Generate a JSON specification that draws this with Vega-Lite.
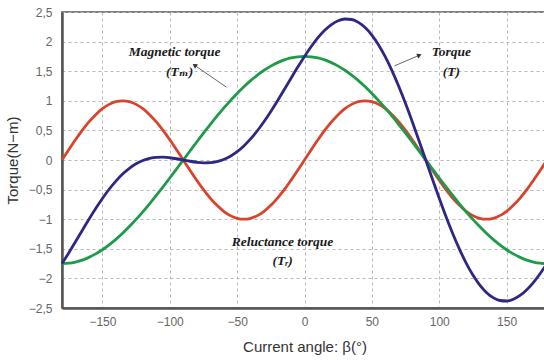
{
  "$schema": "https://vega.github.io/schema/vega-lite/v6.json",
  "width": 485,
  "height": 296,
  "autosize": "none",
  "padding": {"left": 62, "top": 12, "right": 0, "bottom": 52},
  "background": "white",
  "config": {
    "locale": {"number": {"decimal": ",", "thousands": ".", "grouping": [3], "currency": ["", ""], "minus": "−"}},
    "view": {"stroke": "#555", "strokeWidth": 1.5},
    "axis": {
      "grid": true,
      "gridDash": [3, 3],
      "gridColor": "#b8b8b8",
      "gridWidth": 1,
      "ticks": false,
      "domainColor": "#555",
      "domainWidth": 2.5,
      "labelFont": "Liberation Sans",
      "labelFontSize": 12,
      "labelColor": "#666",
      "labelOverlap": false,
      "titleFont": "Liberation Sans",
      "titleFontSize": 15,
      "titleFontWeight": "normal",
      "titleColor": "#333"
    }
  },
  "datasets": {
    "torque": [
      {"b": -180, "m": -1.75, "r": 0, "t": -1.75},
      {"b": -175, "m": -1.7433, "r": 0.1736, "t": -1.5697},
      {"b": -170, "m": -1.7234, "r": 0.342, "t": -1.3814},
      {"b": -165, "m": -1.6904, "r": 0.5, "t": -1.1904},
      {"b": -160, "m": -1.6445, "r": 0.6428, "t": -1.0017},
      {"b": -155, "m": -1.586, "r": 0.766, "t": -0.82},
      {"b": -150, "m": -1.5155, "r": 0.866, "t": -0.6495},
      {"b": -145, "m": -1.4335, "r": 0.9397, "t": -0.4938},
      {"b": -140, "m": -1.3406, "r": 0.9848, "t": -0.3558},
      {"b": -135, "m": -1.2374, "r": 1, "t": -0.2374},
      {"b": -130, "m": -1.1249, "r": 0.9848, "t": -0.1401},
      {"b": -125, "m": -1.0038, "r": 0.9397, "t": -0.0641},
      {"b": -120, "m": -0.875, "r": 0.866, "t": -0.009},
      {"b": -115, "m": -0.7396, "r": 0.766, "t": 0.0264},
      {"b": -110, "m": -0.5985, "r": 0.6428, "t": 0.0443},
      {"b": -105, "m": -0.4529, "r": 0.5, "t": 0.0471},
      {"b": -100, "m": -0.3039, "r": 0.342, "t": 0.0381},
      {"b": -95, "m": -0.1525, "r": 0.1736, "t": 0.0211},
      {"b": -90, "m": 0, "r": 0, "t": 0},
      {"b": -85, "m": 0.1525, "r": -0.1736, "t": -0.0211},
      {"b": -80, "m": 0.3039, "r": -0.342, "t": -0.0381},
      {"b": -75, "m": 0.4529, "r": -0.5, "t": -0.0471},
      {"b": -70, "m": 0.5985, "r": -0.6428, "t": -0.0443},
      {"b": -65, "m": 0.7396, "r": -0.766, "t": -0.0264},
      {"b": -60, "m": 0.875, "r": -0.866, "t": 0.009},
      {"b": -55, "m": 1.0038, "r": -0.9397, "t": 0.0641},
      {"b": -50, "m": 1.1249, "r": -0.9848, "t": 0.1401},
      {"b": -45, "m": 1.2374, "r": -1, "t": 0.2374},
      {"b": -40, "m": 1.3406, "r": -0.9848, "t": 0.3558},
      {"b": -35, "m": 1.4335, "r": -0.9397, "t": 0.4938},
      {"b": -30, "m": 1.5155, "r": -0.866, "t": 0.6495},
      {"b": -25, "m": 1.586, "r": -0.766, "t": 0.82},
      {"b": -20, "m": 1.6445, "r": -0.6428, "t": 1.0017},
      {"b": -15, "m": 1.6904, "r": -0.5, "t": 1.1904},
      {"b": -10, "m": 1.7234, "r": -0.342, "t": 1.3814},
      {"b": -5, "m": 1.7433, "r": -0.1736, "t": 1.5697},
      {"b": 0, "m": 1.75, "r": 0, "t": 1.75},
      {"b": 5, "m": 1.7433, "r": 0.1736, "t": 1.9169},
      {"b": 10, "m": 1.7234, "r": 0.342, "t": 2.0654},
      {"b": 15, "m": 1.6904, "r": 0.5, "t": 2.1904},
      {"b": 20, "m": 1.6445, "r": 0.6428, "t": 2.2873},
      {"b": 25, "m": 1.586, "r": 0.766, "t": 2.352},
      {"b": 30, "m": 1.5155, "r": 0.866, "t": 2.3815},
      {"b": 35, "m": 1.4335, "r": 0.9397, "t": 2.3732},
      {"b": 40, "m": 1.3406, "r": 0.9848, "t": 2.3254},
      {"b": 45, "m": 1.2374, "r": 1, "t": 2.2374},
      {"b": 50, "m": 1.1249, "r": 0.9848, "t": 2.1097},
      {"b": 55, "m": 1.0038, "r": 0.9397, "t": 1.9435},
      {"b": 60, "m": 0.875, "r": 0.866, "t": 1.741},
      {"b": 65, "m": 0.7396, "r": 0.766, "t": 1.5056},
      {"b": 70, "m": 0.5985, "r": 0.6428, "t": 1.2413},
      {"b": 75, "m": 0.4529, "r": 0.5, "t": 0.9529},
      {"b": 80, "m": 0.3039, "r": 0.342, "t": 0.6459},
      {"b": 85, "m": 0.1525, "r": 0.1736, "t": 0.3261},
      {"b": 90, "m": 0, "r": 0, "t": 0},
      {"b": 95, "m": -0.1525, "r": -0.1736, "t": -0.3261},
      {"b": 100, "m": -0.3039, "r": -0.342, "t": -0.6459},
      {"b": 105, "m": -0.4529, "r": -0.5, "t": -0.9529},
      {"b": 110, "m": -0.5985, "r": -0.6428, "t": -1.2413},
      {"b": 115, "m": -0.7396, "r": -0.766, "t": -1.5056},
      {"b": 120, "m": -0.875, "r": -0.866, "t": -1.741},
      {"b": 125, "m": -1.0038, "r": -0.9397, "t": -1.9435},
      {"b": 130, "m": -1.1249, "r": -0.9848, "t": -2.1097},
      {"b": 135, "m": -1.2374, "r": -1, "t": -2.2374},
      {"b": 140, "m": -1.3406, "r": -0.9848, "t": -2.3254},
      {"b": 145, "m": -1.4335, "r": -0.9397, "t": -2.3732},
      {"b": 150, "m": -1.5155, "r": -0.866, "t": -2.3815},
      {"b": 155, "m": -1.586, "r": -0.766, "t": -2.352},
      {"b": 160, "m": -1.6445, "r": -0.6428, "t": -2.2873},
      {"b": 165, "m": -1.6904, "r": -0.5, "t": -2.1904},
      {"b": 170, "m": -1.7234, "r": -0.342, "t": -2.0654},
      {"b": 175, "m": -1.7433, "r": -0.1736, "t": -1.9169},
      {"b": 180, "m": -1.75, "r": 0, "t": -1.75}
    ],
    "labels": [
      {"x": -96.4, "y": 1.82, "text": "Magnetic torque"},
      {"x": -92.7, "y": 1.49, "text": "(Tₘ)"},
      {"x": 109, "y": 1.82, "text": "Torque"},
      {"x": 109, "y": 1.49, "text": "(T)"},
      {"x": -16.3, "y": -1.385, "text": "Reluctance torque"},
      {"x": -16.3, "y": -1.71, "text": "(Tᵣ)"}
    ],
    "arrowM": [{"x": -57.9, "y": 1.23, "x2": -81.6, "y2": 1.6}],
    "arrowT": [{"x": 66.8, "y": 1.59, "x2": 85.3, "y2": 1.77}]
  },
  "layer": [
    {
      "data": {"name": "torque"},
      "mark": {"type": "line", "color": "#d9432c", "strokeWidth": 2.8, "interpolate": "monotone"},
      "encoding": {
        "x": {"field": "b", "type": "quantitative", "scale": {"domain": [-180, 180], "nice": false},
          "axis": {"values": [-150, -100, -50, 0, 50, 100, 150], "tickCount": 20, "format": "d", "title": "Current angle: β(°)", "labelPadding": 8, "titlePadding": 12}},
        "y": {"field": "r", "type": "quantitative", "scale": {"domain": [-2.5, 2.5], "nice": false},
          "axis": {"values": [-2.5, -2, -1.5, -1, -0.5, 0, 0.5, 1, 1.5, 2, 2.5], "tickCount": 20, "format": ".1~f", "title": "Torque(N−m)", "labelPadding": 10, "titlePadding": 8, "labelOverlap": false}}
      }
    },
    {
      "data": {"name": "torque"},
      "mark": {"type": "line", "color": "#1e9a4a", "strokeWidth": 2.8, "interpolate": "monotone"},
      "encoding": {
        "x": {"field": "b", "type": "quantitative"},
        "y": {"field": "m", "type": "quantitative"}
      }
    },
    {
      "data": {"name": "torque"},
      "mark": {"type": "line", "color": "#2f2784", "strokeWidth": 2.8, "interpolate": "monotone"},
      "encoding": {
        "x": {"field": "b", "type": "quantitative"},
        "y": {"field": "t", "type": "quantitative"}
      }
    },
    {
      "data": {"name": "arrowM"},
      "mark": {"type": "rule", "color": "#666", "strokeWidth": 1},
      "encoding": {
        "x": {"field": "x", "type": "quantitative"},
        "y": {"field": "y", "type": "quantitative"},
        "x2": {"field": "x2"},
        "y2": {"field": "y2"}
      }
    },
    {
      "data": {"name": "arrowM"},
      "mark": {"type": "point", "shape": "triangle-right", "filled": true, "color": "#333", "size": 28, "angle": 214, "opacity": 1},
      "encoding": {
        "x": {"field": "x2", "type": "quantitative"},
        "y": {"field": "y2", "type": "quantitative"}
      }
    },
    {
      "data": {"name": "arrowT"},
      "mark": {"type": "rule", "color": "#666", "strokeWidth": 1},
      "encoding": {
        "x": {"field": "x", "type": "quantitative"},
        "y": {"field": "y", "type": "quantitative"},
        "x2": {"field": "x2"},
        "y2": {"field": "y2"}
      }
    },
    {
      "data": {"name": "arrowT"},
      "mark": {"type": "point", "shape": "triangle-right", "filled": true, "color": "#333", "size": 28, "angle": 336, "opacity": 1},
      "encoding": {
        "x": {"field": "x2", "type": "quantitative"},
        "y": {"field": "y2", "type": "quantitative"}
      }
    },
    {
      "data": {"name": "labels"},
      "mark": {"type": "text", "font": "Liberation Serif, DejaVu Serif", "fontSize": 13.5, "fontWeight": "bold", "fontStyle": "italic", "color": "#1a1a1a", "align": "center", "baseline": "middle"},
      "encoding": {
        "x": {"field": "x", "type": "quantitative"},
        "y": {"field": "y", "type": "quantitative"},
        "text": {"field": "text"}
      }
    }
  ]
}
